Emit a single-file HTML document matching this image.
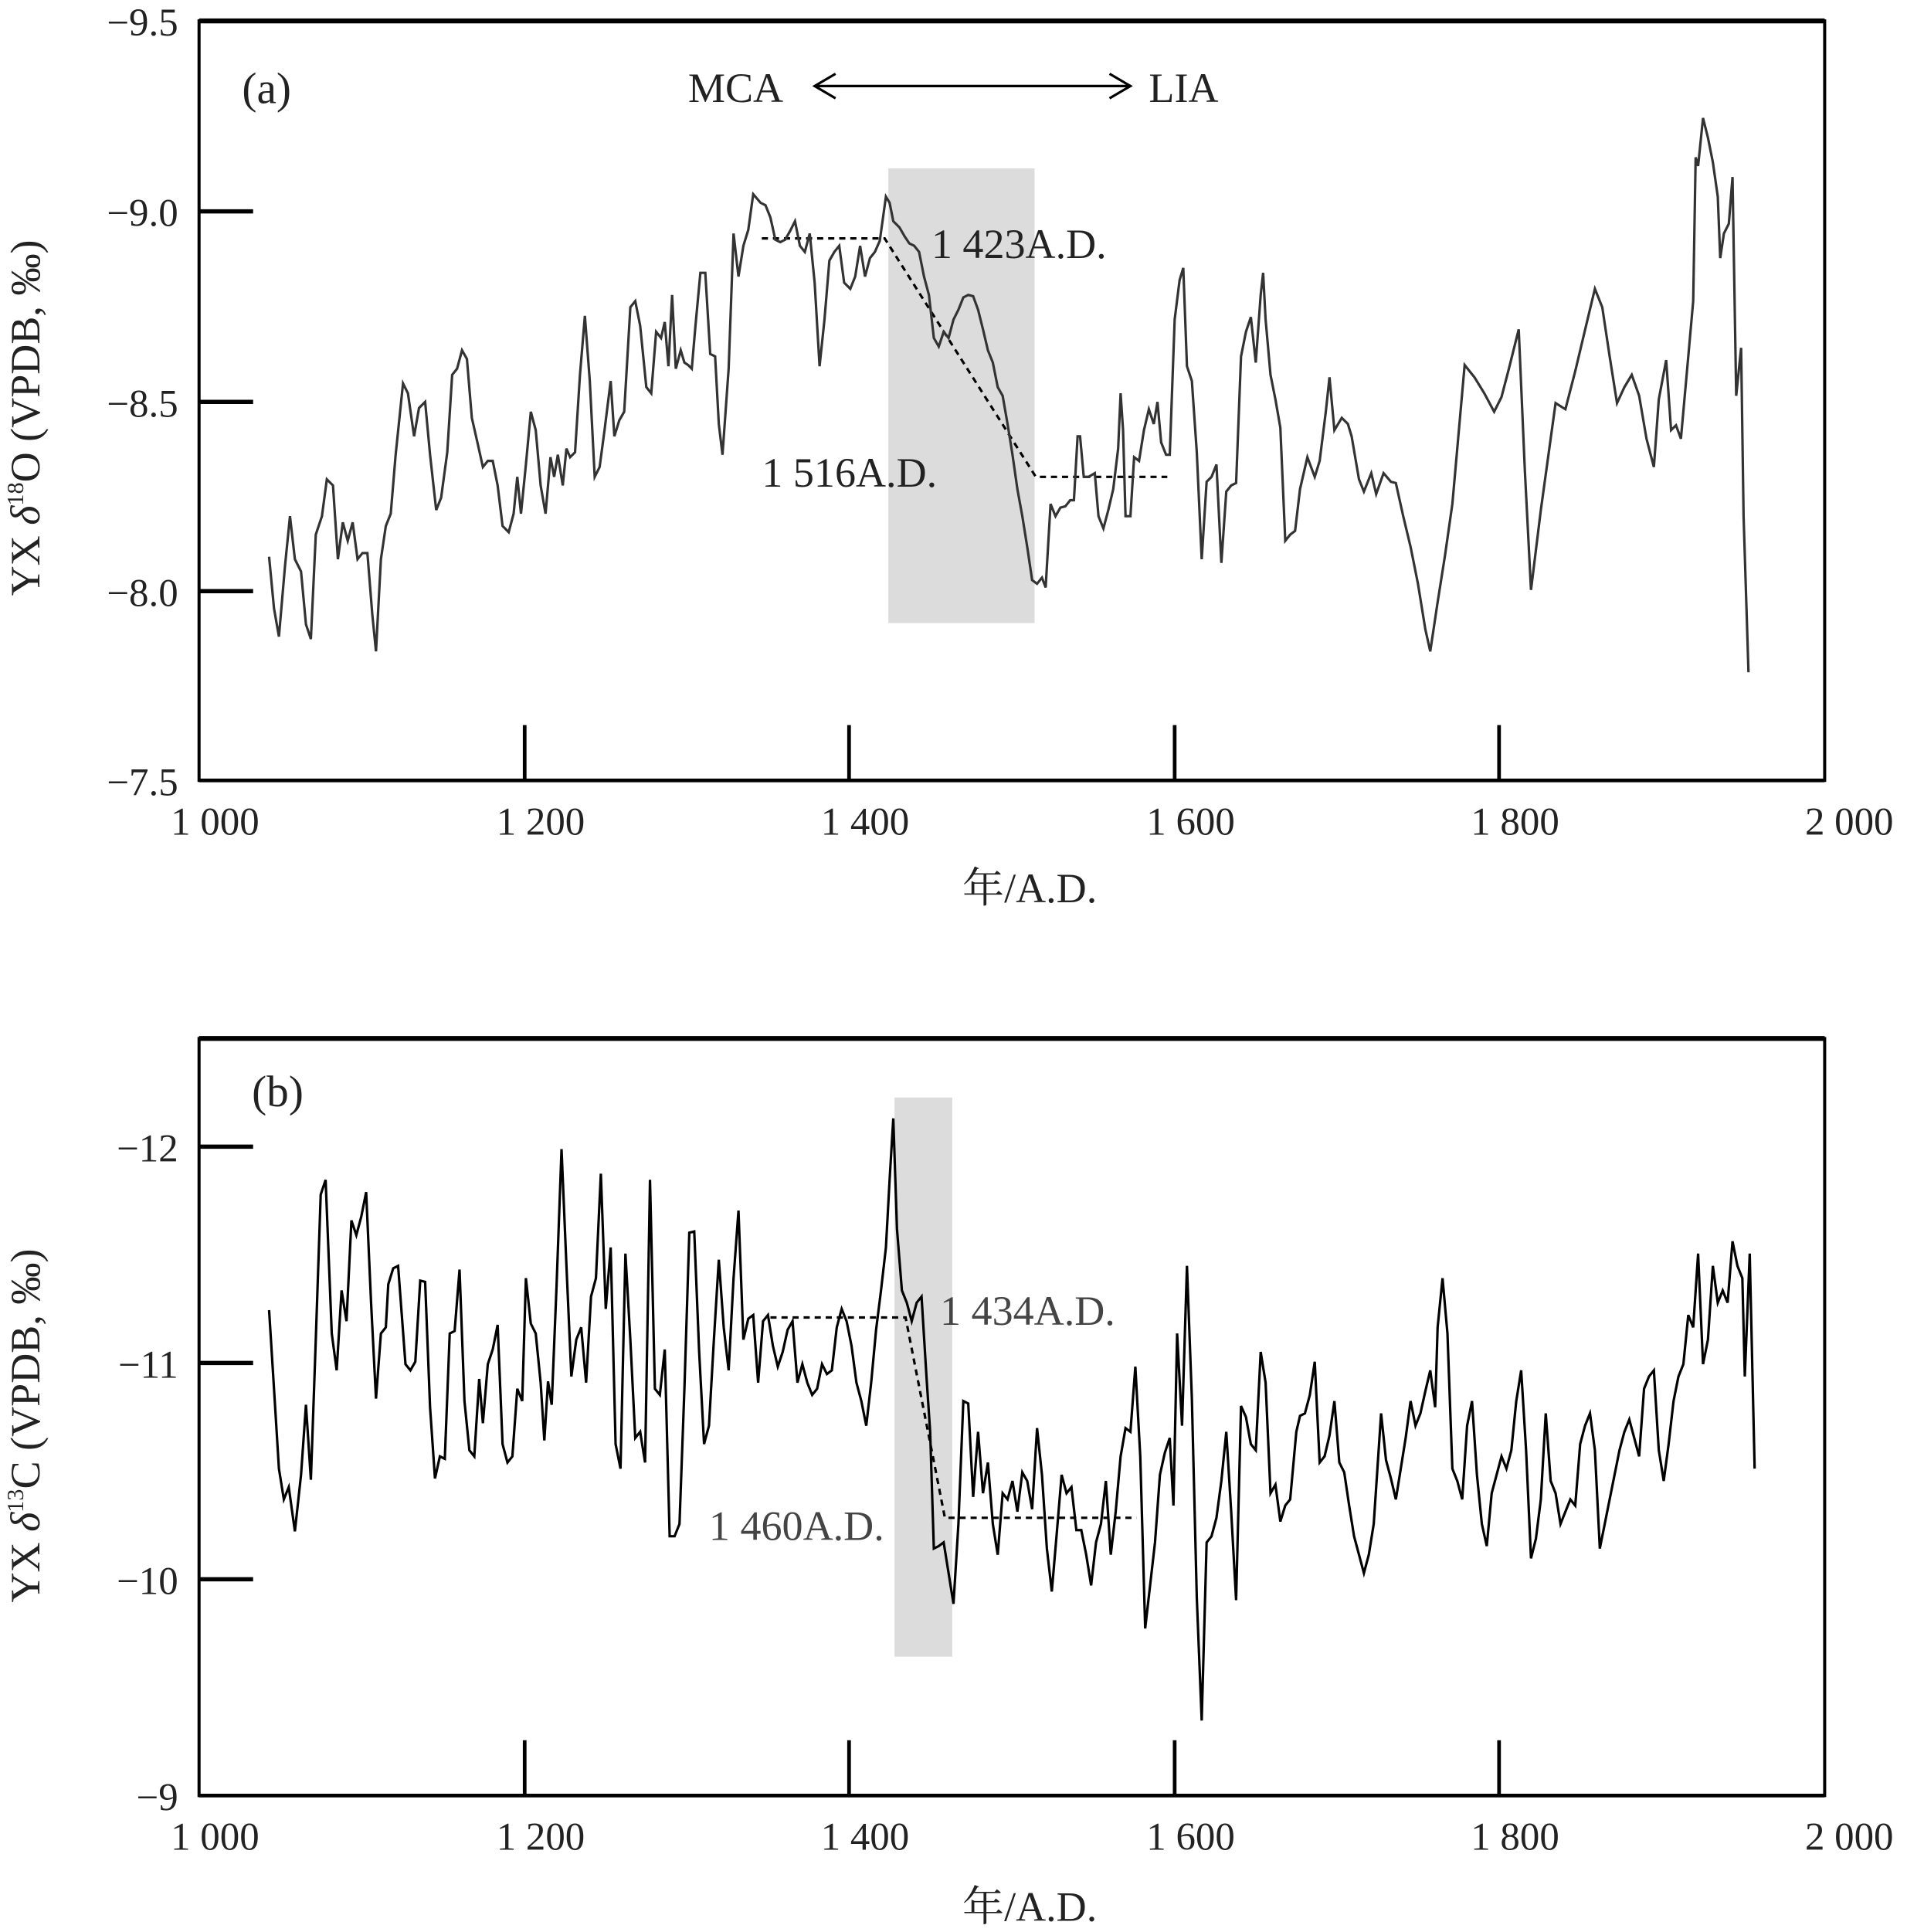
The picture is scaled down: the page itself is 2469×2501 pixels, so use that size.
<!DOCTYPE html>
<html><head><meta charset="utf-8"><style>html,body{margin:0;padding:0;background:#fff}svg{display:block}</style></head>
<body>
<svg width="2469" height="2501" viewBox="0 0 1552 1572" preserveAspectRatio="none" xmlns="http://www.w3.org/2000/svg" font-family="'Liberation Serif','Noto Serif CJK SC',serif" fill="#222">
<rect width="1552" height="1572" fill="#fff"/>
<!-- Panel a -->
<rect x="723" y="137" width="119" height="370" fill="#dcdcdc"/>
<rect x="162" y="17" width="1323" height="618" fill="none" stroke="#000" stroke-width="2.5"/>
<line x1="162" y1="17" x2="1485" y2="17" stroke="#000" stroke-width="4"/>
<line x1="162" y1="635" x2="1485" y2="635" stroke="#000" stroke-width="3"/>
<g stroke="#000" stroke-width="3.5"><line x1="162" y1="172" x2="206" y2="172"/><line x1="162" y1="327" x2="206" y2="327"/><line x1="162" y1="481" x2="206" y2="481"/></g>
<g stroke="#000" stroke-width="3"><line x1="427" y1="590" x2="427" y2="635"/><line x1="691" y1="590" x2="691" y2="635"/><line x1="956" y1="590" x2="956" y2="635"/><line x1="1220" y1="590" x2="1220" y2="635"/></g>
<g font-size="32" text-anchor="end"><text x="145" y="29">−9.5</text><text x="145" y="184">−9.0</text><text x="145" y="339">−8.5</text><text x="145" y="493">−8.0</text><text x="145" y="647">−7.5</text></g>
<g font-size="32" text-anchor="middle"><text x="175" y="679">1 000</text><text x="440" y="679">1 200</text><text x="704" y="679">1 400</text><text x="969" y="679">1 600</text><text x="1233" y="679">1 800</text><text x="1505" y="679">2 000</text></g>
<text x="838" y="734" font-size="34" text-anchor="middle">年/A.D.</text>
<text transform="translate(32,340) rotate(-90)" font-size="34" text-anchor="middle">YX <tspan font-style="italic">δ</tspan><tspan font-size="19" dy="-13">18</tspan><tspan dy="13">O (VPDB, ‰)</tspan></text>
<text x="197" y="84" font-size="36">(a)</text>
<text x="560" y="83" font-size="34">MCA</text>
<text x="935" y="83" font-size="34">LIA</text>
<g stroke="#000" stroke-width="2" fill="none"><line x1="663" y1="70" x2="920" y2="70"/><polyline points="680,60 663,70 680,80"/><polyline points="903,60 920,70 903,80"/></g>
<text x="758" y="210" font-size="34">1 423A.D.</text>
<text x="620" y="396" font-size="34">1 516A.D.</text>
<polyline fill="none" stroke="#000" stroke-width="2" stroke-dasharray="5,4" points="620,194 720,194 843,388 950,388"/>
<polyline fill="none" stroke="#333" stroke-width="2" points="219,453 223,495 227,518 232,460 236,420 240,455 245,465 249,508 253,520 257,435 262,420 266,390 271,395 275,455 279,425 283,440 287,425 291,455 295,450 299,450 303,500 306,530 310,455 314,428 318,418 322,370 328,312 332,320 337,355 341,332 346,327 350,370 355,415 359,405 364,368 368,305 372,300 376,285 380,292 384,340 389,362 393,380 397,375 401,375 405,395 409,428 414,433 418,418 421,388 424,418 428,378 432,335 436,350 440,395 444,418 448,372 451,388 454,370 458,395 461,365 464,372 468,368 472,305 476,257 480,310 484,388 488,380 492,350 497,310 500,355 504,342 508,335 513,250 517,245 521,265 526,315 530,320 534,270 538,275 541,262 544,298 547,240 550,300 554,285 557,295 560,297 563,300 566,265 570,222 574,222 578,288 582,290 585,345 588,370 593,300 597,190 601,225 605,200 609,187 613,158 619,165 623,167 627,177 631,195 635,197 639,195 643,188 647,180 651,200 655,205 659,190 663,230 667,298 671,260 675,212 679,205 683,200 687,230 692,235 696,225 700,200 704,225 708,210 712,205 716,196 721,160 724,165 727,180 732,185 736,192 740,198 744,200 748,205 752,225 756,240 760,275 764,282 768,270 772,275 776,260 780,252 784,242 788,240 792,241 796,252 800,268 804,285 808,295 812,315 816,322 820,345 824,370 828,398 832,420 836,445 840,472 844,475 848,470 851,478 855,410 859,420 863,413 867,412 871,407 874,407 877,355 879,355 882,388 886,388 891,385 894,420 898,430 902,415 906,398 910,365 912,320 914,350 916,420 920,420 923,372 927,375 931,350 935,333 939,345 942,327 945,360 949,370 952,370 956,260 960,228 963,218 966,298 970,310 974,368 978,455 982,392 986,388 990,378 994,458 998,400 1002,395 1006,393 1010,290 1014,270 1018,258 1022,295 1026,240 1028,222 1030,260 1034,305 1038,325 1042,348 1046,440 1050,435 1054,432 1058,398 1064,372 1070,388 1074,375 1079,335 1082,307 1086,350 1092,340 1097,345 1100,355 1106,390 1110,400 1116,385 1120,402 1126,385 1132,392 1136,393 1142,420 1148,445 1154,475 1160,512 1164,530 1170,490 1176,452 1182,410 1192,297 1200,307 1208,320 1216,335 1222,323 1228,300 1236,268 1241,383 1246,480 1254,415 1266,328 1274,333 1282,302 1292,260 1298,235 1304,250 1310,290 1316,328 1322,315 1328,305 1334,322 1340,357 1346,380 1350,325 1356,293 1360,350 1364,346 1368,357 1374,290 1378,245 1380,128 1382,135 1386,96 1390,112 1394,132 1398,160 1400,210 1403,190 1407,182 1410,144 1413,322 1417,283 1419,420 1423,547"/>
<!-- Panel b -->
<rect x="728" y="893" width="47" height="455" fill="#dcdcdc"/>
<rect x="162" y="845" width="1323" height="616" fill="none" stroke="#000" stroke-width="2.5"/>
<line x1="162" y1="845" x2="1485" y2="845" stroke="#000" stroke-width="4"/>
<line x1="162" y1="1461" x2="1485" y2="1461" stroke="#000" stroke-width="3"/>
<g stroke="#000" stroke-width="3.5"><line x1="162" y1="933" x2="206" y2="933"/><line x1="162" y1="1109" x2="206" y2="1109"/><line x1="162" y1="1285" x2="206" y2="1285"/></g>
<g stroke="#000" stroke-width="3"><line x1="427" y1="1416" x2="427" y2="1461"/><line x1="691" y1="1416" x2="691" y2="1461"/><line x1="956" y1="1416" x2="956" y2="1461"/><line x1="1220" y1="1416" x2="1220" y2="1461"/></g>
<g font-size="32" text-anchor="end"><text x="145" y="945">−12</text><text x="145" y="1121">−11</text><text x="145" y="1297">−10</text><text x="145" y="1473">−9</text></g>
<g font-size="32" text-anchor="middle"><text x="175" y="1505">1 000</text><text x="440" y="1505">1 200</text><text x="704" y="1505">1 400</text><text x="969" y="1505">1 600</text><text x="1233" y="1505">1 800</text><text x="1505" y="1505">2 000</text></g>
<text x="838" y="1563" font-size="34" text-anchor="middle">年/A.D.</text>
<text transform="translate(32,1160) rotate(-90)" font-size="34" text-anchor="middle">YX <tspan font-style="italic">δ</tspan><tspan font-size="19" dy="-13">13</tspan><tspan dy="13">C (VPDB, ‰)</tspan></text>
<text x="205" y="900" font-size="36">(b)</text>
<text x="765" y="1078" font-size="34" fill="#444">1 434A.D.</text>
<text x="577" y="1253" font-size="34" fill="#444">1 460A.D.</text>
<polyline fill="none" stroke="#000" stroke-width="2" stroke-dasharray="5,4" points="627,1072 737,1072 769,1235 925,1235"/>
<polyline fill="none" stroke="#000" stroke-width="2" points="219,1066 223,1130 227,1195 231,1220 235,1210 240,1246 245,1200 249,1143 253,1204 257,1090 261,972 265,960 270,1085 274,1115 278,1050 282,1075 286,993 290,1005 294,990 298,970 302,1060 306,1138 310,1085 314,1080 316,1045 320,1032 324,1030 330,1110 334,1115 338,1108 342,1042 346,1043 350,1145 354,1203 358,1185 362,1187 366,1085 370,1083 374,1033 378,1140 382,1180 386,1185 390,1122 393,1158 397,1110 401,1098 405,1078 409,1175 413,1190 417,1185 421,1130 425,1140 428,1040 432,1077 436,1085 440,1125 443,1172 446,1124 449,1143 453,1045 457,935 461,1030 465,1120 469,1090 473,1080 477,1125 481,1055 485,1040 489,955 493,1065 497,1015 501,1175 505,1195 509,1020 513,1090 517,1170 521,1165 525,1190 529,960 533,1130 537,1135 541,1098 545,1250 549,1250 553,1240 557,1130 561,1003 565,1002 569,1100 573,1175 577,1160 581,1090 585,1025 589,1080 593,1115 597,1040 601,985 605,1090 609,1073 613,1070 617,1125 621,1075 625,1070 629,1095 633,1112 637,1100 641,1082 645,1075 649,1125 653,1110 657,1125 661,1135 665,1130 669,1110 673,1118 677,1115 681,1080 685,1065 689,1075 693,1095 697,1125 701,1140 705,1160 709,1125 713,1082 717,1050 721,1015 724,960 727,910 730,1000 734,1050 738,1060 742,1075 746,1060 750,1055 754,1120 757,1165 760,1260 764,1258 768,1255 772,1280 776,1305 780,1240 784,1140 788,1142 792,1218 796,1165 800,1215 804,1190 808,1240 812,1265 816,1215 820,1220 824,1205 828,1230 832,1198 836,1205 840,1228 844,1162 848,1200 852,1260 856,1295 860,1248 864,1200 868,1215 872,1210 876,1245 880,1245 884,1265 888,1290 892,1255 896,1240 900,1205 904,1265 908,1230 912,1185 916,1162 920,1165 924,1112 928,1185 932,1325 936,1290 940,1255 944,1200 948,1182 952,1170 955,1225 958,1085 962,1160 966,1030 970,1138 974,1300 978,1400 982,1255 986,1250 990,1235 994,1205 998,1165 1002,1230 1006,1302 1010,1144 1014,1153 1018,1175 1022,1180 1026,1100 1030,1125 1034,1215 1038,1208 1042,1238 1046,1225 1050,1220 1055,1165 1058,1152 1062,1150 1066,1135 1070,1108 1074,1190 1078,1185 1082,1168 1086,1140 1090,1190 1094,1198 1098,1225 1102,1250 1106,1265 1110,1280 1114,1265 1118,1240 1124,1150 1128,1188 1132,1203 1136,1220 1140,1195 1144,1170 1148,1140 1152,1160 1156,1150 1160,1132 1164,1115 1168,1145 1170,1080 1174,1040 1178,1085 1182,1195 1186,1205 1190,1220 1194,1160 1198,1140 1202,1200 1206,1240 1210,1258 1214,1215 1218,1200 1222,1185 1226,1195 1230,1180 1234,1140 1238,1115 1242,1180 1246,1268 1250,1252 1254,1220 1258,1150 1262,1205 1266,1215 1270,1240 1274,1230 1278,1220 1282,1225 1286,1175 1290,1160 1294,1150 1298,1180 1302,1260 1306,1240 1310,1220 1314,1200 1318,1180 1322,1165 1326,1155 1330,1170 1334,1185 1338,1130 1342,1120 1346,1115 1350,1180 1354,1205 1358,1175 1362,1140 1366,1120 1370,1110 1374,1070 1378,1080 1382,1020 1386,1110 1390,1090 1394,1030 1398,1060 1402,1050 1406,1060 1410,1010 1414,1030 1418,1040 1420,1120 1424,1020 1428,1195"/>
</svg>
</body></html>
